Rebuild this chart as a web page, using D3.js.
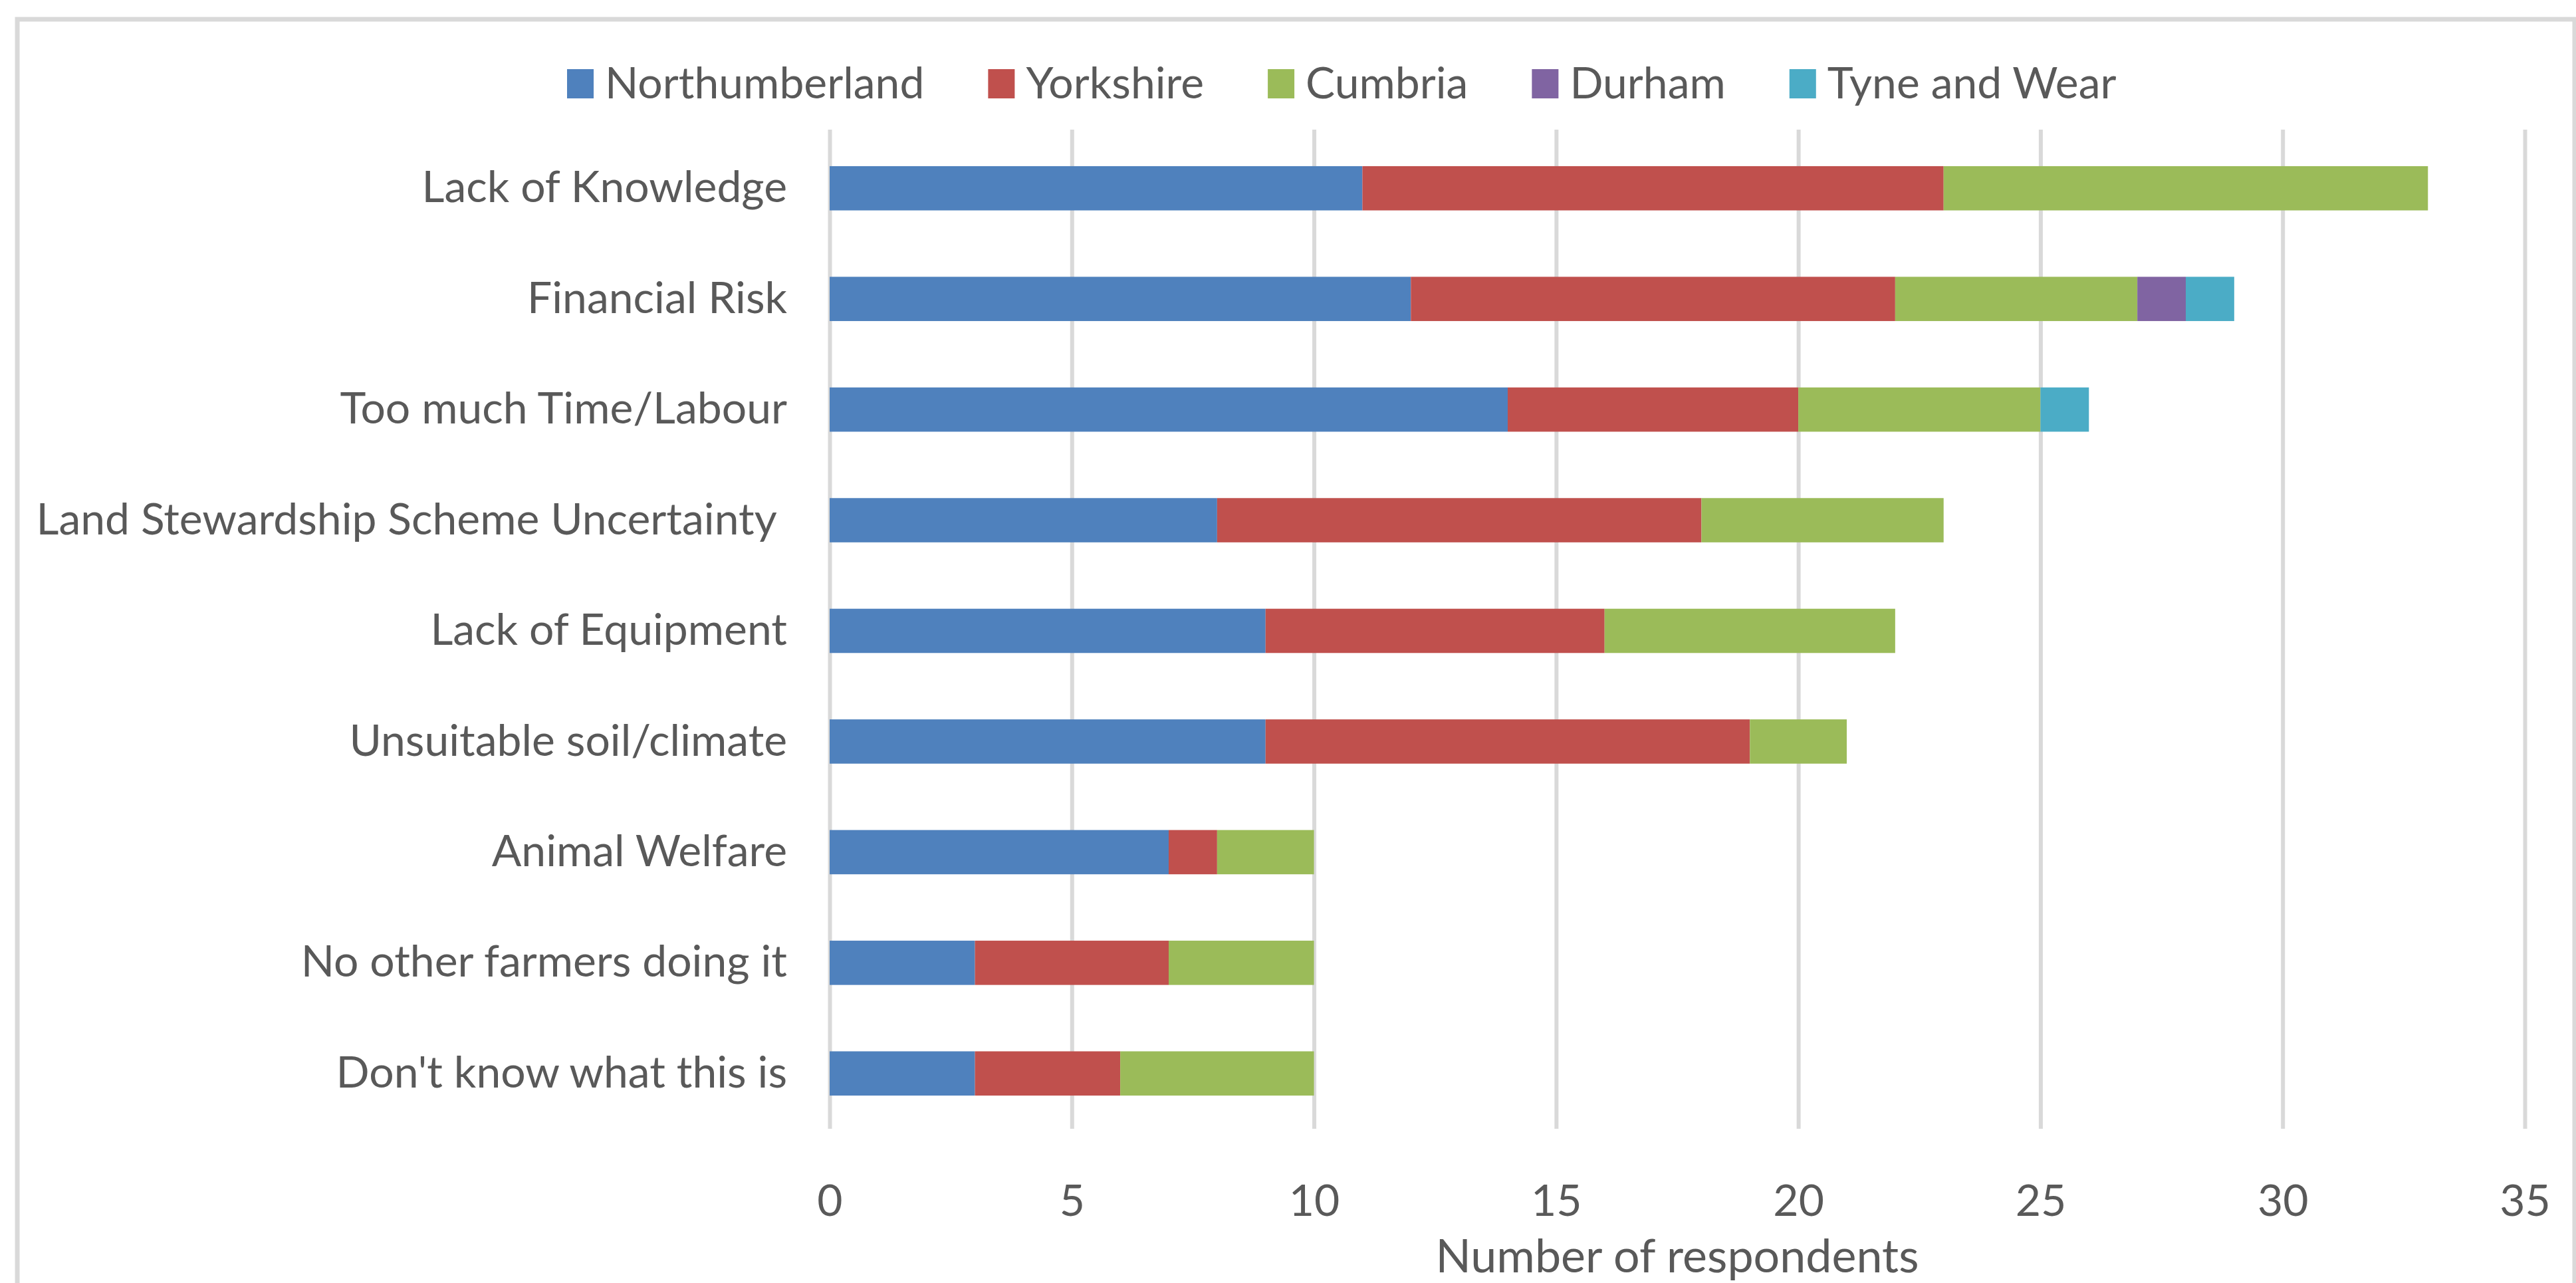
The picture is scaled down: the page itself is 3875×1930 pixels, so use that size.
<!DOCTYPE html>
<html>
<head>
<meta charset="utf-8">
<script src="https://cdn.jsdelivr.net/npm/d3@7"></script>
<style>
  html, body { margin: 0; padding: 0; background: #fff; }
  svg text { font-family: Lato, "Open Sans", sans-serif; fill: #595959; }
</style>
</head>
<body>
<svg id="chart" width="3875" height="1930"></svg>
<script>
// chart data
const categories = [
    "Lack of Knowledge",
    "Financial Risk",
    "Too much Time/Labour",
    "Land Stewardship Scheme Uncertainty ",
    "Lack of Equipment",
    "Unsuitable soil/climate",
    "Animal Welfare",
    "No other farmers doing it",
    "Don't know what this is"
];
const regions = ["Northumberland", "Yorkshire", "Cumbria", "Durham", "Tyne and Wear"];
const northumberland = [11, 12, 14, 8, 9, 9, 7, 3, 3];
const yorkshire      = [12, 10, 6, 10, 7, 10, 1, 4, 3];
const cumbria        = [10, 5, 5, 5, 6, 2, 2, 3, 4];
const durham         = [0, 1, 0, 0, 0, 0, 0, 0, 0];
const tyneAndWear    = [0, 1, 1, 0, 0, 0, 0, 0, 0];
const xTicks = [0, 5, 10, 15, 20, 25, 30, 35];
const colors = ["#4F81BD", "#C0504D", "#9BBB59", "#8064A2", "#4BACC6"];

const seriesValues = [northumberland, yorkshire, cumbria, durham, tyneAndWear];

// table for the stack layout
const rows = categories.map((c, i) => {
    const r = { category: c };
    regions.forEach((reg, j) => { r[reg] = seriesValues[j][i]; });
    return r;
});

const svg = d3.select("#chart");

// outer chart frame
svg.append("rect")
    .attr("x", 26).attr("y", 29)
    .attr("width", 3847).attr("height", 1960)
    .attr("fill", "#fff")
    .attr("stroke", "#d9d9d9")
    .attr("stroke-width", 7);

const plot = { left: 1248, right: 3798, top: 200, bottom: 1698 };

const x = d3.scaleLinear().domain([0, 35]).range([plot.left, plot.right]);
const y = d3.scaleBand().domain(categories)
    .range([plot.top, plot.bottom])
    .paddingInner(0.6).paddingOuter(0.3);

// gridlines
svg.append("g")
    .attr("transform", `translate(0,${plot.bottom})`)
    .call(d3.axisBottom(x).tickValues(xTicks).tickSize(-(plot.bottom - 195)).tickFormat(""))
    .call(g => g.select(".domain").remove())
    .call(g => g.selectAll("line").attr("stroke", "#d9d9d9").attr("stroke-width", 6));

// bars
const stack = d3.stack().keys(regions);
const layers = stack(rows);

svg.append("g").selectAll("g")
    .data(layers)
    .join("g")
    .attr("fill", (d, i) => colors[i])
    .selectAll("rect")
    .data(d => d.filter(s => s[1] > s[0]))
    .join("rect")
    .attr("x", d => x(d[0]))
    .attr("width", d => x(d[1]) - x(d[0]))
    .attr("y", d => y(d.data.category))
    .attr("height", y.bandwidth());

// x tick labels
svg.append("g")
    .attr("transform", `translate(0,${plot.bottom})`)
    .call(d3.axisBottom(x).tickValues(xTicks).tickSize(0).tickPadding(84))
    .call(g => g.select(".domain").remove())
    .call(g => g.selectAll("text")
        .attr("font-size", 66)
        .attr("font-family", "Lato, 'Open Sans', sans-serif")
        .attr("fill", "#595959"));

// category labels
svg.append("g")
    .attr("transform", `translate(${plot.left},0)`)
    .call(d3.axisLeft(y).tickSize(0).tickPadding(64))
    .call(g => g.select(".domain").remove())
    .call(g => g.selectAll("text")
        .attr("font-size", 66)
        .attr("font-family", "Lato, 'Open Sans', sans-serif")
        .attr("fill", "#595959")
        .style("white-space", "pre"));

// axis title
svg.append("text")
    .attr("x", (plot.left + plot.right) / 2)
    .attr("y", 1914)
    .attr("text-anchor", "middle")
    .attr("font-size", 70)
    .text("Number of respondents");

// legend
const legend = svg.append("g");
let lx = 853;
regions.forEach((reg, i) => {
    legend.append("rect")
        .attr("x", lx).attr("y", 104)
        .attr("width", 40).attr("height", 44)
        .attr("fill", colors[i]);
    const t = legend.append("text")
        .attr("x", lx + 57).attr("y", 148)
        .attr("font-size", 66)
        .text(reg);
    lx += 57 + t.node().getComputedTextLength() + 96;
});
</script>
</body>
</html>
